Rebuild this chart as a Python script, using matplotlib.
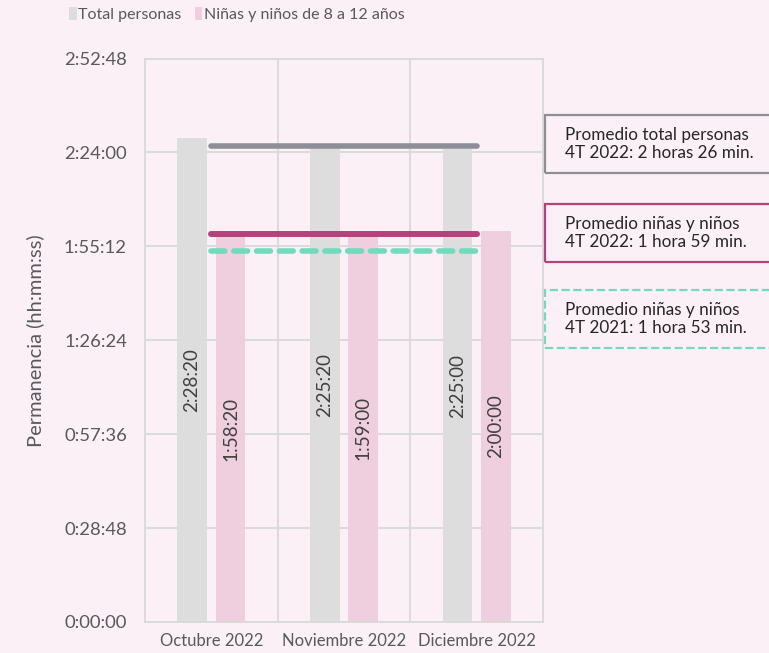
import matplotlib
matplotlib.use("Agg")
import matplotlib.pyplot as plt
from matplotlib.patches import Rectangle
from matplotlib.ticker import FixedLocator, FuncFormatter

plt.rcParams['font.family'] = ['Lato', 'DejaVu Sans']

categories = ["Octubre 2022", "Noviembre 2022", "Diciembre 2022"]
total_personas = [8900, 8720, 8700]        # seconds: 2:28:20, 2:25:20, 2:25:00
ninas_ninos = [7100, 7140, 7200]           # seconds: 1:58:20, 1:59:00, 2:00:00
prom_total_2022 = 8760                     # 2:26:00
prom_ninos_2022 = 7140                     # 1:59:00
prom_ninos_2021 = 6820                     # ~1:53
series_names = ["Total personas", "Niñas y niños de 8 a 12 años"]
box_texts = ["Promedio total personas\n4T 2022: 2 horas 26 min.",
             "Promedio niñas y niños\n4T 2022: 1 hora 59 min.",
             "Promedio niñas y niños\n4T 2021: 1 hora 53 min."]
yticks = [0, 1728, 3456, 5184, 6912, 8640, 10368]

BG = "#FAF0F5"
GRAY_BAR = "#DDDDDD"
PINK_BAR = "#EFCEDD"
GRAY_LINE = "#8E8E96"
MAG_LINE = "#B3437A"
TEAL_LINE = "#72DBBD"
TXT = "#595959"

def fmt(s, pos=None):
    s = int(round(s))
    return f"{s // 3600}:{(s % 3600) // 60:02d}:{s % 60:02d}"

fig = plt.figure(figsize=(7.69, 6.53), dpi=100, facecolor=BG)
ax = fig.add_axes([145/769, 1-622/653, 398/769, 563.5/653])
ax.set_facecolor(BG)

x = list(range(len(categories)))
off = 0.145
w = 0.225
ax.bar([i - off for i in x], total_personas, width=w, color=GRAY_BAR, zorder=2, label=series_names[0])
ax.bar([i + off for i in x], ninas_ninos, width=w, color=PINK_BAR, zorder=2, label=series_names[1])

for i in x:
    ax.text(i - off, total_personas[i]/2, fmt(total_personas[i]), rotation=90,
            ha='center', va='center', fontsize=13.5, color="#404040", zorder=3)
    ax.text(i + off, ninas_ninos[i]/2, fmt(ninas_ninos[i]), rotation=90,
            ha='center', va='center', fontsize=13.5, color="#404040", zorder=3)

ax.plot([0, 2], [prom_total_2022]*2, color=GRAY_LINE, lw=4, solid_capstyle='round', zorder=4)
ax.plot([0, 2], [prom_ninos_2022]*2, color=MAG_LINE, lw=4.3, solid_capstyle='round', zorder=4)
ax.plot([0, 2], [prom_ninos_2021]*2, color=TEAL_LINE, lw=4, dashes=(2.5, 1.6),
        dash_capstyle='round', zorder=4)

ax.set_xlim(-0.5, 2.5)
ax.set_ylim(0, 10368)
ax.yaxis.set_major_locator(FixedLocator(yticks))
ax.yaxis.set_major_formatter(FuncFormatter(fmt))
ax.set_xticks(x)
ax.set_xticklabels(categories)
ax.xaxis.set_minor_locator(FixedLocator([0.5, 1.5]))
ax.grid(True, which='major', axis='y', color="#D9D9D9", lw=1.3, zorder=0)
ax.grid(True, which='minor', axis='x', color="#D9D9D9", lw=1.3, zorder=0)
ax.tick_params(axis='y', which='both', length=0, labelsize=13.3, labelcolor=TXT, pad=13)
ax.tick_params(axis='x', which='both', length=0, labelsize=12, labelcolor=TXT, pad=8)
for sp in ax.spines.values():
    sp.set_color("#D9D9D9")
    sp.set_linewidth(1.3)
ax.set_ylabel("Permanencia (hh:mm:ss)", fontsize=14.5, color=TXT, labelpad=14)

leg = fig.legend(loc='upper left', bbox_to_anchor=(55/769, 1.012), ncol=2, frameon=False,
                 fontsize=11.5, handlelength=0.45, handleheight=0.9, handletextpad=0.12,
                 columnspacing=0.8, labelcolor=TXT)

boxes = [(115, 173, GRAY_LINE, '-'), (204, 262, MAG_LINE, '-'), (290, 348, TEAL_LINE, '--')]
for (top, bot, col, ls), txt in zip(boxes, box_texts):
    r = Rectangle((545/769, 1-bot/653), 240/769, (bot-top)/653, transform=fig.transFigure,
                  facecolor='none', edgecolor=col, lw=1.6, linestyle=ls, clip_on=False)
    fig.add_artist(r)
    fig.text(565/769, 1-((top+bot)/2)/653, txt, ha='left', va='center', fontsize=12.3,
             color="#262626", linespacing=1.2)

fig.savefig("out.png", dpi=100, facecolor=BG)
